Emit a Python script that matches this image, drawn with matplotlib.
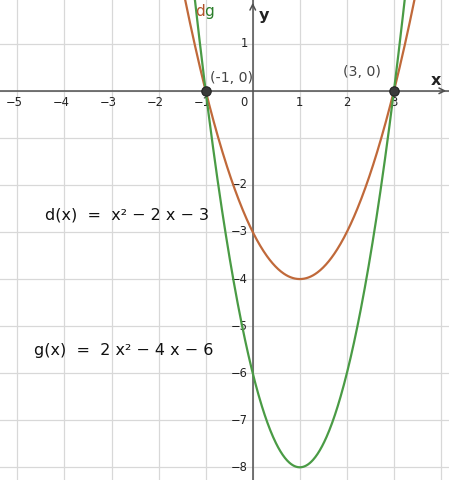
import numpy as np
import matplotlib.pyplot as plt

# function coefficients (a, b, c) for a*x^2 + b*x + c
d_coef = [1, -2, -3]
g_coef = [2, -4, -6]
roots = [-1, 3]
root_labels = ["(-1, 0)", "(3, 0)"]
x_ticks = [-5, -4, -3, -2, -1, 1, 2, 3]
y_ticks = [1, -2, -3, -4, -5, -6, -7, -8]
d_text = "d(x)  =  x² − 2 x − 3"
g_text = "g(x)  =  2 x² − 4 x − 6"

d_col = '#c0693a'
g_col = '#4a9b45'
axis_col = '#505050'

fig = plt.figure(figsize=(4.49, 4.8), dpi=100)
ax = fig.add_axes([0, 0, 1, 1])
x0, x1 = -5.37, 4.17
y0, y1 = -8.27, 1.93
ax.set_xlim(x0, x1)
ax.set_ylim(y0, y1)
ax.axis('off')

# grid
for gx in range(-5, 5):
    ax.axvline(gx, color='#d8d8d8', lw=0.9, zorder=0)
for gy in range(-8, 2):
    ax.axhline(gy, color='#d8d8d8', lw=0.9, zorder=0)

# axes with open arrow heads
ax.axhline(0, color=axis_col, lw=1.1, zorder=1)
ax.axvline(0, color=axis_col, lw=1.1, zorder=1)
ax.annotate('', xy=(x1, 0), xytext=(x1 - 0.2, 0),
            arrowprops=dict(arrowstyle='->', color=axis_col, lw=1.1))
ax.annotate('', xy=(0, y1), xytext=(0, y1 - 0.2),
            arrowprops=dict(arrowstyle='->', color=axis_col, lw=1.1))
ax.text(x1 - 0.28, 0.06, 'x', fontsize=11.5, fontweight='semibold', color='#222',
        ha='center', va='bottom')
ax.text(0.12, y1 - 0.18, 'y', fontsize=11.5, fontweight='semibold', color='#222',
        ha='left', va='top')

# tick labels
for t in x_ticks:
    off = -3 if t < 0 else 0
    ax.annotate(str(t).replace('-', '−'), (t, 0), xytext=(off, -12),
                textcoords='offset pixels', ha='center', va='center',
                fontsize=8.3, color='#222')
ax.annotate('0', (0, 0), xytext=(-9, -12), textcoords='offset pixels',
            ha='center', va='center', fontsize=8.3, color='#222')
for t in y_ticks:
    ax.annotate(str(t).replace('-', '−'), (0, t), xytext=(-5, 0),
                textcoords='offset pixels', ha='right', va='center',
                fontsize=8.3, color='#222')

# curves
xs = np.linspace(x0, x1, 800)
ax.plot(xs, np.polyval(d_coef, xs), color=d_col, lw=1.6, zorder=3)
ax.plot(xs, np.polyval(g_coef, xs), color=g_col, lw=1.6, zorder=3)

# roots
ax.scatter(roots, [0] * len(roots), s=46, color='#3a3a3a', edgecolor='#222',
           lw=0.8, zorder=5)
ax.annotate(root_labels[0], (roots[0], 0), xytext=(4, 13),
            textcoords='offset pixels', ha='left', va='center',
            fontsize=10.2, color='#444')
ax.annotate(root_labels[1], (roots[1], 0), xytext=(-51, 19),
            textcoords='offset pixels', ha='left', va='center',
            fontsize=10.2, color='#444')

# curve names
ax.text(-1.23, y1 - 0.25, 'd', fontsize=11, color='#b0522a', ha='left', va='center')
ax.text(-1.23 + 0.19, y1 - 0.25, 'g', fontsize=11, color='#2a7d2a', ha='left', va='center')

# formulas
ax.text(-4.42, -2.64, d_text, fontsize=11.5, color='#111', ha='left', va='center')
ax.text(-4.65, -5.51, g_text, fontsize=11.5, color='#111', ha='left', va='center')

fig.savefig('out.png', dpi=100)
